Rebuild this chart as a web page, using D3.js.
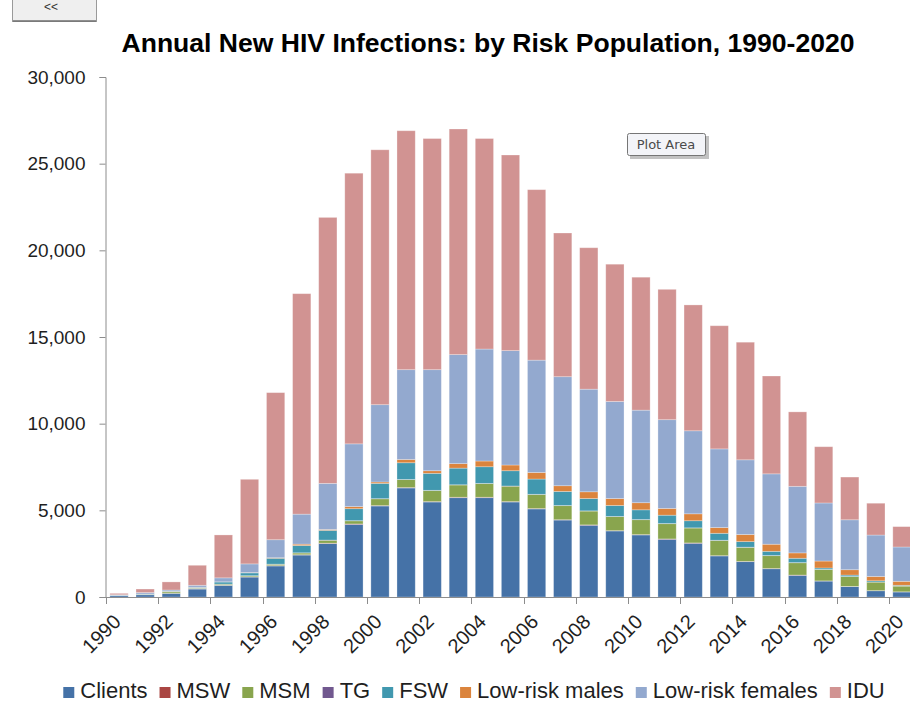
<!DOCTYPE html>
<html>
<head>
<meta charset="utf-8">
<script src="https://cdn.jsdelivr.net/npm/d3@7"></script>
<style>
  body { margin: 0; background: #fff; }
  svg { display: block; font-family: "Liberation Sans", Arial, sans-serif; }
</style>
</head>
<body>
<svg id="chart" width="910" height="702"></svg>
<script>
const years = d3.range(1990, 2021).map(String);
const seriesNames = ["Clients", "MSW", "MSM", "TG", "FSW", "Low-risk males", "Low-risk females", "IDU"];
const seriesColors = ["#4572A7", "#AA4643", "#89A54E", "#71588F", "#4198AF", "#DB843D", "#93A9CF", "#D19392"];

// values, 1990..2020
const clients = [80,130,210,460,670,1150,1790,2420,3080,4190,5250,6290,5480,5730,5730,5480,5080,4440,4140,3810,3580,3330,3100,2370,2040,1630,1250,920,600,360,290];
const msw = [0,0,5,10,10,15,20,20,25,25,25,25,25,25,25,25,25,20,20,20,20,20,20,15,15,15,15,10,10,10,10];
const msm = [10,20,80,40,60,60,80,100,170,180,390,460,640,710,790,890,810,810,800,810,860,880,860,880,810,740,710,660,570,490,330];
const tg = [0,0,0,5,5,5,5,10,10,10,10,10,10,10,10,10,10,10,10,10,10,10,10,10,10,10,10,5,5,5,5];
const fsw = [10,20,30,40,120,160,340,420,560,690,880,960,980,960,960,880,880,810,710,630,560,480,410,400,320,240,250,80,80,70,40];
const lowRiskMales = [0,5,10,10,10,20,30,80,50,120,80,190,150,260,330,330,380,330,390,400,410,390,400,330,410,410,310,400,310,250,230];
const lowRiskFemales = [30,80,70,110,230,500,1040,1730,2660,3620,4460,5180,5830,6290,6460,6600,6480,6290,5920,5600,5340,5120,4790,4540,4310,4060,3840,3350,2880,2390,1980];
const idu = [80,205,465,1155,2475,4880,8485,12720,15345,15615,14705,13785,13335,13015,12145,11285,9835,8290,8160,7920,7670,7520,7260,7105,6785,5645,4295,3245,2465,1835,1175];

const yTicks = [0, 5000, 10000, 15000, 20000, 25000, 30000];
const xLabelYears = years.filter((d, i) => i % 2 === 0);

const seriesValues = [clients, msw, msm, tg, fsw, lowRiskMales, lowRiskFemales, idu];
const table = years.map((year, i) => {
  const row = { year };
  seriesNames.forEach((name, j) => row[name] = seriesValues[j][i]);
  return row;
});

const svg = d3.select("#chart");
const plot = { left: 106, right: 915, top: 77, bottom: 597 };

const x = d3.scaleBand()
    .domain(years)
    .range([plot.left, plot.right])
    .paddingInner(0.3)
    .paddingOuter(0.15);

const y = d3.scaleLinear()
    .domain([0, 30000])
    .range([plot.bottom, plot.top]);

const color = d3.scaleOrdinal().domain(seriesNames).range(seriesColors);

const stacked = d3.stack().keys(seriesNames)(table);

// bars
svg.append("g")
  .selectAll("g")
  .data(stacked)
  .join("g")
    .attr("fill", d => color(d.key))
  .selectAll("rect")
  .data(d => d)
  .join("rect")
    .attr("x", d => x(d.data.year))
    .attr("width", x.bandwidth())
    .attr("y", d => y(d[1]))
    .attr("height", d => Math.max(0, y(d[0]) - y(d[1])))
    .attr("stroke", "#fff")
    .attr("stroke-opacity", 0.35)
    .attr("stroke-width", 0.8);

// y axis
const yAxis = svg.append("g")
    .attr("transform", `translate(${plot.left - 0.5},0)`)
    .call(d3.axisLeft(y).tickValues(yTicks).tickSize(6).tickPadding(14).tickFormat(d3.format(",")));
yAxis.select(".domain").attr("stroke", "#8c8c8c");
yAxis.selectAll(".tick line").attr("stroke", "#8c8c8c");
yAxis.selectAll(".tick text")
    .attr("font-size", 19)
    .attr("fill", "#1f1f1f")
    .attr("font-family", "'Liberation Sans', Arial, sans-serif");

// x axis
const step = x.step();
const gap = (step - x.bandwidth()) / 2;
const xAxis = svg.append("g");
xAxis.append("line")
    .attr("x1", plot.left - 0.5).attr("x2", 910)
    .attr("y1", plot.bottom + 0.5).attr("y2", plot.bottom + 0.5)
    .attr("stroke", "#8c8c8c");
xAxis.selectAll("line.tick")
  .data(xLabelYears)
  .join("line")
    .attr("class", "tick")
    .attr("x1", d => Math.round(x(d) - gap) + 0.5)
    .attr("x2", d => Math.round(x(d) - gap) + 0.5)
    .attr("y1", plot.bottom)
    .attr("y2", plot.bottom + 7)
    .attr("stroke", "#8c8c8c");
xAxis.selectAll("text")
  .data(xLabelYears)
  .join("text")
    .attr("transform", d => `translate(${x(d) + x.bandwidth() / 2 + 3},${plot.bottom + 26}) rotate(-45)`)
    .attr("text-anchor", "end")
    .attr("font-size", 20)
    .attr("fill", "#1f1f1f")
    .text(d => d);

// title
svg.append("text")
    .attr("x", 488)
    .attr("y", 52)
    .attr("text-anchor", "middle")
    .attr("font-size", 26)
    .attr("font-weight", "bold")
    .attr("fill", "#000")
    .attr("textLength", 733)
    .attr("lengthAdjust", "spacingAndGlyphs")
    .text("Annual New HIV Infections: by Risk Population, 1990-2020");

// legend
const legend = svg.append("g").attr("transform", "translate(0,690)");
const items = legend.selectAll("g")
  .data(seriesNames)
  .join("g");
items.append("rect")
    .attr("y", -3)
    .attr("width", 11)
    .attr("height", 11)
    .attr("fill", d => color(d));
items.append("text")
    .attr("x", 17)
    .attr("y", 0)
    .attr("dy", "0.35em")
    .attr("font-size", 22)
    .attr("fill", "#1f1f1f")
    .text(d => d);
const widths = [];
items.each(function() {
  widths.push(d3.select(this).select("text").node().getComputedTextLength() + 17);
});
const itemGap = 12;
const totalW = d3.sum(widths) + itemGap * (widths.length - 1);
let cursor = 474 - totalW / 2;
items.attr("transform", (d, i) => {
  const t = `translate(${cursor},0)`;
  cursor += widths[i] + itemGap;
  return t;
});

// "<<" button at the top left
const btn = svg.append("g");
btn.append("rect")
    .attr("x", 12.5).attr("y", -3.5)
    .attr("width", 84).attr("height", 25)
    .attr("fill", "#efefef")
    .attr("stroke", "#9a9a9a");
btn.append("line")
    .attr("x1", 13).attr("x2", 96).attr("y1", 21).attr("y2", 21)
    .attr("stroke", "#6f6f6f").attr("stroke-width", 1.5);
btn.append("text")
    .attr("x", 51).attr("y", 11)
    .attr("text-anchor", "middle")
    .attr("font-size", 12)
    .attr("fill", "#333")
    .text("<<");

// "Plot Area" tooltip
const tip = svg.append("g").attr("transform", "translate(627,133)");
tip.append("rect")
    .attr("x", 3).attr("y", 3)
    .attr("width", 79).attr("height", 23)
    .attr("fill", "#9a9a9a")
    .attr("opacity", 0.6);
tip.append("rect")
    .attr("x", 0.5).attr("y", 0.5)
    .attr("width", 78).attr("height", 22)
    .attr("rx", 2)
    .attr("fill", "#f3f4f8")
    .attr("stroke", "#767676");
tip.append("text")
    .attr("x", 39).attr("y", 16)
    .attr("text-anchor", "middle")
    .attr("font-size", 13)
    .attr("font-family", "'DejaVu Sans', sans-serif")
    .attr("fill", "#4a4a4a")
    .text("Plot Area");
</script>
</body>
</html>
